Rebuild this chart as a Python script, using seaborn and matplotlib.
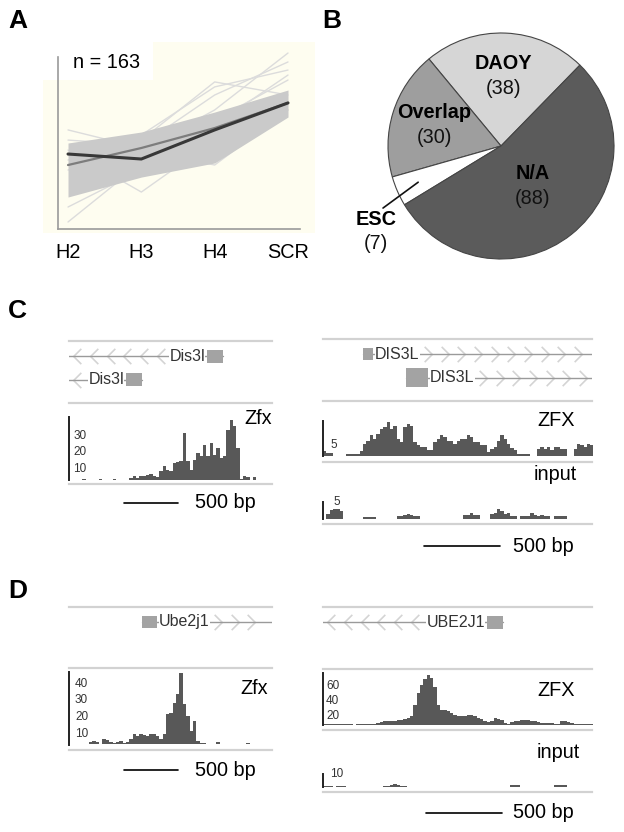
import numpy as np
import pandas as pd
import matplotlib
matplotlib.use("Agg")
import matplotlib.pyplot as plt
import seaborn as sns
from matplotlib.path import Path
from matplotlib.patches import Rectangle
from matplotlib.transforms import blended_transform_factory

sns.set_style("white")
plt.rcParams["font.family"] = ["Liberation Sans", "DejaVu Sans"]
plt.rcParams["text.color"] = "black"
plt.rcParams["xtick.labelcolor"] = "black"
plt.rcParams["ytick.labelcolor"] = "black"

W, H = 624, 832

# ---------------- panel A: profiles of the 163 genes ----------------
STAGES = ["H2", "H3", "H4", "SCR"]
N_GENES = 163
band_low = [1.86, 3.02, 3.84, 6.51]     # dense grey band, lower edge
band_high = [5.00, 5.64, 6.80, 8.08]    # dense grey band, upper edge
outlier_lines = [
    [0.41, 3.84, 5.76, 7.33],
    [4.59, 2.15, 5.17, 6.92],
    [4.01, 5.17, 8.55, 7.79],
    [3.43, 4.59, 6.92, 10.23],
    [5.17, 4.88, 7.79, 9.71],
    [5.76, 4.71, 6.34, 8.66],
    [1.28, 3.43, 6.05, 8.95],
    [4.30, 4.59, 3.72, 6.92],
    [3.72, 5.47, 8.26, 9.24],
]
mean_dark = [4.36, 4.07, 5.76, 7.33]
mean_grey = [3.72, 4.71, 5.87, 7.33]

# ---------------- panel B: overlap pie ----------------
pie_labels = ["DAOY", "Overlap", "ESC", "N/A"]
pie_counts = [38, 30, 7, 88]

# ---------------- panels C / D: browser tracks ----------------
SCALE_BP = 500
BIN_MOUSE = 31   # bp per bin, mouse loci
BIN_HUMAN = 22   # bp per bin, human loci
SPAN_MOUSE = 1880
SPAN_HUMAN = 1770

# (name, tx_start, tx_end, exon_start, exon_end, strand, row)
dis3l_mouse_genes = [("Dis3l", -300, 1426, 1278, 1426, "-", 0),
                     ("Dis3l", -300, 676, 528, 676, "-", 1)]
dis3l_human_genes = [("DIS3L", 263, 2000, 263, 329, "+", 0),
                     ("DIS3L", 546, 2000, 546, 691, "+", 1)]
ube2j1_mouse_genes = [("Ube2j1", 676, 2100, 676, 815, "+", 0)]
ube2j1_human_genes = [("UBE2J1", -300, 1184, 1079, 1184, "-", 0)]

dis3l_mouse_zfx = [0, 0, 0, 0, 0.5, 0, 0, 0, 0, 0.5,
                   0, 0, 0, 0.5, 0, 0, 0, 0, 1, 2.4,
                   1, 2, 2, 2.5, 3.2, 2, 1.5, 5, 8.4, 6,
                   5, 10, 10.5, 11, 28, 11, 6, 12, 16, 14,
                   21, 14, 22, 15, 19, 13, 14, 30, 36, 32,
                   19, 0.5, 2, 1.5, 0, 1.5, 0, 0, 0, 0, 0]
dis3l_human_zfx = [1.5, 1, 1, 0, 0, 0, 0, 0.6, 0.6, 0.6,
                   0.6, 1.5, 3.6, 4.5, 6, 5, 6.5, 7.8, 8.3, 9.9,
                   7.8, 8.8, 5, 4, 8.3, 9.3, 8.8, 4, 3.1, 2.6,
                   2.6, 1.7, 1.7, 4, 5, 6, 5.5, 4.5, 4.5, 3.6,
                   4.5, 5, 5, 6, 5.5, 4, 4, 3.1, 3.1, 1.2,
                   2, 2.6, 4.5, 6, 5, 3.6, 2.5, 1.7, 0.6, 0.6,
                   0.6, 0.6, 0, 0, 2.2, 2.6, 2.2, 2.6, 1.7, 2.6,
                   2.6, 2.2, 2.2, 0, 0, 2.2, 3.6, 3.1, 2.6, 3.6, 3.1]
dis3l_human_input = [0, 1.5, 2.6, 2.8, 2.8, 2.4, 0, 0, 0, 0,
                     0, 0, 0.75, 0.75, 0.75, 0.75, 0, 0, 0, 0,
                     0, 0, 0.9, 0.9, 1.1, 1.5, 1.2, 0.9, 0.9, 0,
                     0, 0, 0, 0, 0, 0, 0, 0, 0, 0,
                     0, 0, 1.1, 1.3, 1.9, 1.3, 1.1, 0, 0, 0,
                     1.5, 1.7, 2.8, 2.4, 1.6, 1.9, 1, 1, 0, 0.9,
                     0.9, 1, 1.7, 1.3, 1, 1.2, 0.9, 0.9, 0, 0.9,
                     0.9, 0.9, 0.9, 0, 0, 0, 0, 0, 0, 0, 0]
ube2j1_mouse_zfx = [0, 0.4, 0, 0, 0.4, 0, 1.5, 2, 1.5, 0,
                    3, 2.5, 1.2, 0.8, 1.5, 2.2, 1, 1.5, 3, 6,
                    5, 6, 5.5, 5, 6, 6.5, 5, 3.5, 6, 18,
                    19, 25, 30, 43, 24, 17, 8, 14, 2, 0.8,
                    0.8, 0.5, 0, 0, 1.4, 0.5, 0, 0, 0, 0,
                    0, 0, 0, 0.6, 0, 0, 0, 0.3, 0, 0, 0]
ube2j1_human_zfx = [1, 1, 1, 1, 1, 1, 1, 1, 0.5, 0,
                    1, 1, 1, 1, 1, 1.5, 2.5, 4, 4.4, 4.4,
                    4.8, 5.5, 6.7, 6.7, 7.5, 9, 12, 26, 42, 53,
                    61, 66, 62, 50, 26, 20, 19, 18, 16, 13,
                    12, 11, 12, 13, 13, 11, 9, 7, 4.4, 3,
                    5, 9, 8, 6.7, 2, 1, 3, 4.4, 5.5, 6.5,
                    6.7, 6.7, 5.5, 4.4, 3.5, 2, 1.8, 1.8, 1.8, 1.5,
                    1, 4.5, 5.3, 3.5, 2.2, 1.5, 1.3, 1.3, 1.3, 1.3, 1.3]
ube2j1_human_input = [0.8, 0.8, 0.8, 0, 0.8, 0.8, 0.8, 0, 0, 0,
                      0.6, 0.6, 0.6, 0.6, 0, 0, 0, 0, 1, 1.3,
                      2, 2.6, 1.8, 1.3, 1, 0, 0, 0, 0, 0,
                      0, 0, 0, 0, 0, 0.6, 0.6, 0.6, 0, 0,
                      0, 0, 0, 0, 0, 0, 0, 0, 0, 0,
                      0, 0, 0, 0, 0, 0, 1.8, 1.8, 1.8, 0,
                      0, 0, 0, 0, 0, 0, 0, 0, 0, 1.8,
                      1.8, 1.8, 1.8, 0, 0, 0, 0, 0.5, 0.5, 0.5, 0]

SIGNAL_COLOR = "#585858"
LINE_GREY = "#d2d2d2"
FS = 14.3

fig = plt.figure(figsize=(W / 100, H / 100), dpi=100)


def px_axes(x0, y0, x1, y1):
    return fig.add_axes([x0 / W, 1 - y1 / H, (x1 - x0) / W, (y1 - y0) / H])


def fig_text(x, y, s, **kw):
    return fig.text(x / W, 1 - y / H, s, **kw)


# ===================== A =====================
axA = px_axes(43, 42, 315, 233)
axA.set_facecolor("#fefdf0")
pos = np.arange(len(STAGES))

out_df = pd.DataFrame(
    [(i, p, v) for i, line in enumerate(outlier_lines) for p, v in zip(pos, line)],
    columns=["gene", "pos", "value"])
sns.lineplot(data=out_df, x="pos", y="value", units="gene", estimator=None,
             color="#dcdcdc", lw=1, ax=axA, zorder=1)
axA.fill_between(pos, band_low, band_high, color="#cacaca", lw=0, zorder=2)
sns.lineplot(x=pos, y=mean_grey, color="#7d7d7d", lw=1.6, ax=axA, zorder=3)
sns.lineplot(x=pos, y=mean_dark, color="#383838", lw=2.2, ax=axA, zorder=4)

axA.set_xlim(-0.341, 3.368)
axA.set_ylim(-0.23, 10.87)
for s in ("top", "right"):
    axA.spines[s].set_visible(False)
for s in ("left", "bottom"):
    axA.spines[s].set_color("#9a9a9a")
    axA.spines[s].set_linewidth(1.2)
axA.spines["left"].set_position(("data", -0.136))
axA.spines["left"].set_bounds(0, 10)
axA.spines["bottom"].set_position(("data", 0))
axA.spines["bottom"].set_bounds(-0.136, 3.164)
axA.set_xticks(pos, STAGES)
axA.set_yticks([])
axA.tick_params(axis="x", length=4, width=1, color="#9a9a9a", labelsize=FS, pad=6,
                labelcolor="black")
axA.set_xlabel("")
axA.set_ylabel("")
axA.add_patch(Rectangle((0, 0.80), 0.404, 0.2, transform=axA.transAxes,
                        fc="white", ec="none", zorder=0.5))
axA.text((73 - 43) / 272, (233 - 63) / 191, f"n = {N_GENES}", transform=axA.transAxes,
         fontsize=FS, ha="left", va="center", zorder=6, color="black")

# ===================== B =====================
axB = px_axes(388, 33, 614, 259)
pie_colors = ["#d6d6d6", "#9e9e9e", "#ffffff", "#5b5b5b"]
wedges, _ = axB.pie(pie_counts, colors=pie_colors, startangle=45.7, counterclock=True,
                    wedgeprops=dict(edgecolor="#454545", linewidth=0.8))
axB.set_xlim(-1, 1)
axB.set_ylim(-1, 1)
label_r = {"DAOY": 0.62, "Overlap": 0.62, "N/A": 0.45}
for w, name, n in zip(wedges, pie_labels, pie_counts):
    mid = np.deg2rad((w.theta1 + w.theta2) / 2)
    if name in label_r:
        cx, cy = label_r[name] * np.cos(mid), label_r[name] * np.sin(mid)
    else:
        cx, cy = -1.106, -0.757
        axB.plot([0.8 * np.cos(mid), -1.044], [0.8 * np.sin(mid), -0.549],
                 color="#111111", lw=1.2, clip_on=False)
    axB.text(cx, cy + 0.11, name, ha="center", va="center", fontsize=FS,
             fontweight="bold", clip_on=False, color="black")
    axB.text(cx, cy - 0.11, f"({n})", ha="center", va="center", fontsize=FS,
             clip_on=False, color="#111111")

# ===================== C / D tracks =====================
chev_left = Path([(0.5, 1), (-0.5, 0), (0.5, -1)], [Path.MOVETO, Path.LINETO, Path.LINETO])
chev_right = Path([(-0.5, 1), (0.5, 0), (-0.5, -1)], [Path.MOVETO, Path.LINETO, Path.LINETO])


def gene_track(rect, genes, span, bp_px, exon_h):
    ax = px_axes(*rect)
    ax.set_xlim(0, span)
    ax.set_ylim(2.0, -0.65)
    ax.set_xticks([])
    ax.set_yticks([])
    ax.patch.set_alpha(0)
    for s in ("left", "right"):
        ax.spines[s].set_visible(False)
    for s in ("top", "bottom"):
        ax.spines[s].set_color(LINE_GREY)
        ax.spines[s].set_linewidth(1.6)
    rend = fig.canvas.get_renderer()
    sp = 16.7 * bp_px
    for (name, t0, t1, e0, e1, strand, row), eh in zip(genes, exon_h):
        ax.plot([t0, t1], [row, row], color="#9a9a9a", lw=1.0, zorder=2)
        ax.add_patch(Rectangle((e0, row - eh / 2), e1 - e0, eh, fc="#a3a3a3",
                               ec="none", zorder=3))
        if strand == "-":
            t = ax.text(e0 - 2 * bp_px, row, name, ha="right", va="center", fontsize=11.5,
                        color="#333333", zorder=4,
                        bbox=dict(fc="white", ec="none", pad=0.3))
        else:
            t = ax.text(e1 + 2 * bp_px, row, name, ha="left", va="center", fontsize=11.5,
                        color="#333333", zorder=4,
                        bbox=dict(fc="white", ec="none", pad=0.3))
        bb = t.get_window_extent(rend)
        lx0, lx1 = ax.transData.inverted().transform([(bb.x0, 0), (bb.x1, 0)])[:, 0]
        if strand == "-":
            seg0, seg1, mk = max(t0, 0), lx0, chev_left
        else:
            seg0, seg1, mk = lx1, min(t1, span), chev_right
        xs = np.arange(seg0 + 0.5 * sp, seg1 - 0.3 * sp, sp)
        ax.plot(xs, np.full(len(xs), row), ls="none", marker=mk, ms=11, mfc="none",
                mec="#d4d4d4", mew=1.2, zorder=1)
    return ax


def signal_track(rect, values, bin_bp, span, ytop, ticks, tick_va, tick_pad, gap_px):
    ax = px_axes(*rect)
    n = len(values)
    df = pd.DataFrame({"pos": (np.arange(n) + 0.5) * bin_bp, "signal": values})
    sns.histplot(data=df, x="pos", weights="signal", bins=n, binrange=(0, n * bin_bp),
                 element="step", fill=True, color=SIGNAL_COLOR, alpha=1, linewidth=0,
                 ax=ax)
    ax.set_xlim(0, span)
    ax.set_ylim(0, ytop)
    ax.patch.set_alpha(0)
    for s in ("top", "right"):
        ax.spines[s].set_visible(False)
    ax.spines["left"].set_color("#222222")
    ax.spines["left"].set_linewidth(1.4)
    ax.spines["bottom"].set_color(LINE_GREY)
    ax.spines["bottom"].set_linewidth(1.6)
    ax.spines["bottom"].set_position(("outward", gap_px * 0.72))
    ax.set_xticks([])
    ax.set_yticks(ticks)
    ax.set_yticklabels([str(t) for t in ticks])
    ax.tick_params(axis="y", direction="in", length=5, width=1, color="#222222",
                   pad=tick_pad, labelsize=8.5, labelcolor="#333333")
    for lab in ax.get_yticklabels():
        lab.set_ha("left")
        lab.set_va(tick_va)
    ax.set_xlabel("")
    ax.set_ylabel("")
    return ax


def scale_bar(ax, x0_bp, text_bp, y_px):
    tr = blended_transform_factory(ax.transData, fig.transFigure)
    y = 1 - y_px / H
    ax.plot([x0_bp, x0_bp + SCALE_BP], [y, y], color="black", lw=1.2,
            transform=tr, clip_on=False)
    ax.text(text_bp, y, f"{SCALE_BP} bp", transform=tr, ha="left", va="center",
            fontsize=FS, clip_on=False, color="black")


bpp_m = SCALE_BP / 54
bpp_h = SCALE_BP / 76

# C left: mouse Dis3l
gene_track((69, 341, 272, 403), dis3l_mouse_genes, SPAN_MOUSE, bpp_m, [0.55, 0.55])
ax = signal_track((69, 417, 272, 479.5), dis3l_mouse_zfx, BIN_MOUSE, SPAN_MOUSE,
                  37.5, [10, 20, 30], "top", -3, 4.5)
fig_text(272, 418, "Zfx", ha="right", va="center", fontsize=FS)
scale_bar(ax, 509, 1167, 503)

# C right: human DIS3L
gene_track((323, 339, 592, 401), dis3l_human_genes, SPAN_HUMAN, bpp_h, [0.5, 0.8])
signal_track((323, 421.3, 592, 456.3), dis3l_human_zfx, BIN_HUMAN, SPAN_HUMAN,
             10, [5], "top", -5.5, 5.5)
fig_text(575, 420, "ZFX", ha="right", va="center", fontsize=FS)
ax = signal_track((323, 501.7, 592, 519.3), dis3l_human_input, BIN_HUMAN, SPAN_HUMAN,
                  5, [5], "center", -7.5, 4.7)
fig_text(577, 475, "input", ha="right", va="center", fontsize=FS)
scale_bar(ax, 664, 1250, 546)

# D left: mouse Ube2j1
gene_track((69, 607, 272, 668), ube2j1_mouse_genes, SPAN_MOUSE, bpp_m, [0.55])
ax = signal_track((69, 672.3, 272, 744.5), ube2j1_mouse_zfx, BIN_MOUSE, SPAN_MOUSE,
                  43.3, [10, 20, 30, 40], "top", -4.3, 5.5)
fig_text(268, 688, "Zfx", ha="right", va="center", fontsize=FS)
scale_bar(ax, 509, 1167, 770)

# D right: human UBE2J1
gene_track((323, 607, 592, 669), ube2j1_human_genes, SPAN_HUMAN, bpp_h, [0.55])
signal_track((323, 673, 592, 724.7), ube2j1_human_zfx, BIN_HUMAN, SPAN_HUMAN,
             69, [20, 40, 60], "top", -2.2, 5.3)
fig_text(575, 690, "ZFX", ha="right", va="center", fontsize=FS)
ax = signal_track((323, 774.3, 592, 787.3), ube2j1_human_input, BIN_HUMAN, SPAN_HUMAN,
                  10, [10], "center", -4.8, 4.7)
fig_text(580, 752, "input", ha="right", va="center", fontsize=FS)
scale_bar(ax, 678, 1250, 813)

# panel letters
for letter, (x, y) in zip("ABCD", [(8, 9), (322, 9), (8, 299), (8, 579)]):
    fig_text(x, y, letter, fontsize=19, fontweight="bold", ha="left", va="top",
             color="black")

fig.savefig("out.png", dpi=100)
